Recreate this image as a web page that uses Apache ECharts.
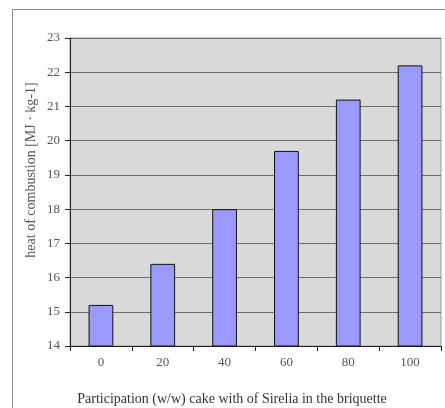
<!DOCTYPE html>
<html>
<head>
<meta charset="utf-8">
<script src="https://cdn.jsdelivr.net/npm/echarts@6/dist/echarts.min.js"></script>
<style>
  html, body { margin: 0; padding: 0; background: #fff; }
  #chart { width: 445px; height: 408px; }
</style>
</head>
<body>
<div id="chart"></div>
<script>
// Sirelia cake share in the briquette (% w/w)
const categories = ['0', '20', '40', '60', '80', '100'];
// Heat of combustion, MJ/kg
const heatValues = [15.2, 16.4, 18.0, 19.7, 21.2, 22.2];
const yTicks = { min: 14, max: 23, interval: 1 };

const chart = echarts.init(document.getElementById('chart'), null, { renderer: 'canvas' });
const font = '"Liberation Serif", "DejaVu Serif", serif';

chart.setOption({
  animation: false,
  backgroundColor: '#ffffff',
  grid: {
    left: 70, right: 4, top: 38, bottom: 62,
    show: true,
    backgroundColor: '#d9d9d9',
    borderColor: '#9a9a9a',
    borderWidth: 1
  },
  graphic: [
    {
      type: 'rect',
      shape: { x: 12.5, y: 9.5, width: 460, height: 420 },
      style: { fill: 'none', stroke: '#8c8c8c', lineWidth: 1 },
      z: -1
    },
    {
      type: 'text',
      x: 31, y: 170,
      rotation: Math.PI / 2,
      style: {
        text: 'heat of combustion [MJ · kg-1]',
        font: '14px ' + font,
        fill: '#555',
        align: 'center',
        verticalAlign: 'middle'
      }
    },
    {
      type: 'text',
      x: 232, y: 399,
      style: {
        text: 'Participation (w/w) cake with of Sirelia in the briquette',
        font: '14px ' + font,
        fill: '#333',
        align: 'center',
        verticalAlign: 'middle'
      }
    }
  ],
  xAxis: {
    type: 'category',
    data: categories,
    axisLine: { lineStyle: { color: '#222', width: 1 } },
    axisTick: { show: true, length: 5, lineStyle: { color: '#222' } },
    axisLabel: { fontFamily: font, fontSize: 13, color: '#555', margin: 10 },
    splitLine: { show: false }
  },
  yAxis: {
    type: 'value',
    min: yTicks.min,
    max: yTicks.max,
    interval: yTicks.interval,
    axisLine: { show: true, lineStyle: { color: '#222', width: 1 } },
    axisTick: { show: true, length: 5, lineStyle: { color: '#222' } },
    axisLabel: { fontFamily: font, fontSize: 13, color: '#555', margin: 10 },
    splitLine: { show: true, lineStyle: { color: '#6e6e6e', width: 1 } }
  },
  series: [{
    type: 'bar',
    data: heatValues,
    barWidth: '40%',
    itemStyle: { color: '#9999ff', borderColor: '#111', borderWidth: 1 }
  }]
});
</script>
</body>
</html>
